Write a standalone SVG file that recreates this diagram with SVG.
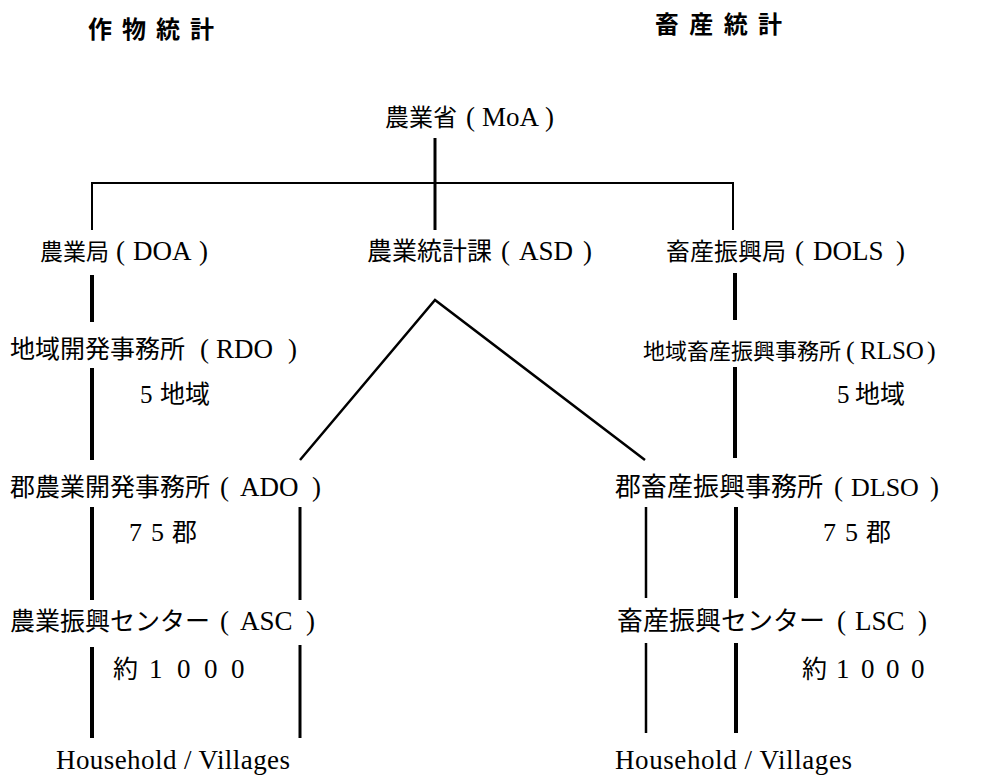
<svg xmlns="http://www.w3.org/2000/svg" width="1000" height="778" viewBox="0 0 1000 778">
<style>
text{font-family:"Liberation Serif","Noto Sans CJK JP",serif;fill:#000;font-size:27px;}
.t{font-size:24px;font-weight:bold;}
.j{font-family:"Noto Sans CJK JP","Liberation Serif",sans-serif;}
.h{font-size:27px;}
.c{fill:none;stroke:#000;stroke-linecap:butt;}
.k{stroke-width:4;}
.m{stroke-width:3;}
.s{stroke-width:2;}
.r{stroke-width:2.5;}
</style>
<rect width="1000" height="778" fill="#fff"/>
<g id="titles">
<text class="t" x="88" y="38" textLength="126" lengthAdjust="spacing">作物統計</text>
<text class="t" x="655" y="33" textLength="127" lengthAdjust="spacing">畜産統計</text>
</g>
<g id="connectors">
<line class="c m" x1="435" y1="138" x2="435" y2="230"/>
<path class="c s" d="M92,230 V183 H733 V230"/>
<polyline class="c r" points="300,460 435,300 645,460"/>
<line class="c k" x1="92" y1="275" x2="92" y2="322"/>
<line class="c k" x1="92" y1="368" x2="92" y2="460"/>
<line class="c k" x1="92" y1="507" x2="92" y2="600"/>
<line class="c k" x1="92" y1="647" x2="92" y2="738"/>
<line class="c m" x1="300" y1="507" x2="300" y2="600"/>
<line class="c m" x1="300" y1="645" x2="300" y2="738"/>
<line class="c k" x1="735" y1="273" x2="735" y2="320"/>
<line class="c k" x1="735" y1="367" x2="735" y2="458"/>
<line class="c k" x1="736" y1="507" x2="736" y2="598"/>
<line class="c k" x1="736" y1="643" x2="736" y2="733"/>
<line class="c r" x1="646" y1="507" x2="646" y2="598"/>
<line class="c r" x1="646" y1="643" x2="646" y2="733"/>
</g>
<g id="node-moa"><text y="126"><tspan class="j" x="385" font-size="24">農業省</tspan><tspan x="466">(</tspan><tspan x="482">MoA</tspan><tspan x="545">)</tspan></text></g>
<g id="node-doa"><text y="260"><tspan class="j" x="40" font-size="23">農業局</tspan><tspan x="116">(</tspan><tspan x="133">DOA</tspan><tspan x="199">)</tspan></text></g>
<g id="node-asd"><text y="260"><tspan class="j" x="367" font-size="25">農業統計課</tspan><tspan x="501">(</tspan><tspan x="519">ASD</tspan><tspan x="583">)</tspan></text></g>
<g id="node-dols"><text y="260"><tspan class="j" x="666" font-size="24">畜産振興局</tspan><tspan x="795">(</tspan><tspan x="813">DOLS</tspan><tspan x="896">)</tspan></text></g>
<g id="node-rdo">
<text y="358"><tspan class="j" x="10" font-size="25">地域開発事務所</tspan><tspan x="200">(</tspan><tspan x="216">RDO</tspan><tspan x="288">)</tspan></text>
<text y="403"><tspan x="140" font-size="25">5</tspan><tspan class="j" x="160" font-size="25">地域</tspan></text>
</g>
<g id="node-rlso">
<text y="359"><tspan class="j" x="643" font-size="22">地域畜産振興事務所</tspan><tspan x="846" font-size="26">(</tspan><tspan x="860" font-size="25">RLSO</tspan><tspan x="927" font-size="26">)</tspan></text>
<text y="403"><tspan x="837" font-size="25">5</tspan><tspan class="j" x="855" font-size="25">地域</tspan></text>
</g>
<g id="node-ado">
<text y="496"><tspan class="j" x="10" font-size="25">郡農業開発事務所</tspan><tspan x="220">(</tspan><tspan x="240">ADO</tspan><tspan x="312">)</tspan></text>
<text y="541"><tspan x="129" font-size="26">7</tspan><tspan x="151" font-size="26">5</tspan><tspan class="j" x="172" font-size="25">郡</tspan></text>
</g>
<g id="node-dlso">
<text y="496"><tspan class="j" x="615" font-size="26">郡畜産振興事務所</tspan><tspan x="834">(</tspan><tspan x="851" font-size="26">DLSO</tspan><tspan x="930">)</tspan></text>
<text y="541"><tspan x="823" font-size="26">7</tspan><tspan x="845" font-size="26">5</tspan><tspan class="j" x="866" font-size="25">郡</tspan></text>
</g>
<g id="node-asc">
<text y="630"><tspan class="j" x="10" font-size="25">農業振興センター</tspan><tspan x="220">(</tspan><tspan x="240">ASC</tspan><tspan x="306">)</tspan></text>
<text y="678"><tspan class="j" x="113" font-size="25">約</tspan><tspan x="149" font-size="27">1</tspan><tspan x="177" font-size="27">0</tspan><tspan x="204" font-size="27">0</tspan><tspan x="231" font-size="27">0</tspan></text>
</g>
<g id="node-lsc">
<text y="630"><tspan class="j" x="617" font-size="26">畜産振興センター</tspan><tspan x="837">(</tspan><tspan x="855">LSC</tspan><tspan x="918">)</tspan></text>
<text y="678"><tspan class="j" x="802" font-size="25">約</tspan><tspan x="836" font-size="27">1</tspan><tspan x="861" font-size="27">0</tspan><tspan x="886" font-size="27">0</tspan><tspan x="911" font-size="27">0</tspan></text>
</g>
<g id="node-hh-left"><text class="h" x="56" y="769" textLength="234" lengthAdjust="spacing">Household / Villages</text></g>
<g id="node-hh-right"><text class="h" x="615" y="769" textLength="237" lengthAdjust="spacing">Household / Villages</text></g>
</svg>
